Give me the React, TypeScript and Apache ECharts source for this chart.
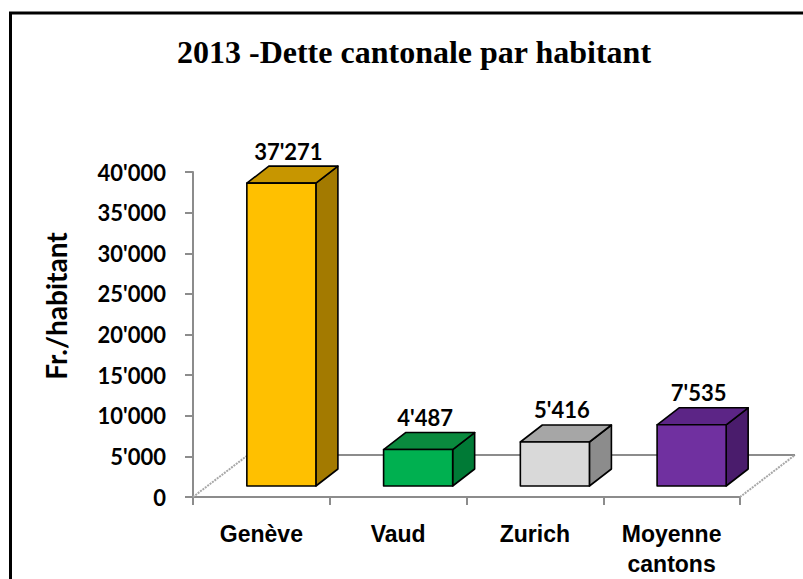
import React, { useEffect, useRef } from "react";
import * as echarts from "echarts";

const titleText = "2013 -Dette cantonale par habitant";
const yAxisTitle = "Fr./habitant";
const categories = ["Genève", "Vaud", "Zurich", "Moyenne\ncantons"];
const debtPerCapita = [37271, 4487, 5416, 7535];
const yMin = 0;
const yMax = 40000;
const yStep = 5000;

const FRONT = ["#FFC000", "#00B050", "#D9D9D9", "#7030A0"];
const TOP = ["#C79600", "#0A8A3E", "#A6A6A6", "#5C2586"];
const SIDE = ["#A37A00", "#007A36", "#8C8C8C", "#4A1C6C"];

function fmt(v: number): string {
  return String(Math.round(v)).replace(/\B(?=(\d{3})+(?!\d))/g, "'");
}

export default function App() {
  const ref = useRef<HTMLDivElement>(null);
  useEffect(() => {
    if (!ref.current) return;
    const chart = echarts.init(ref.current, undefined, { renderer: "svg" });
    const FLOOR_D = [55, -42];
    const BAR_OFF = [20, -11];
    const BAR_D = [22, -17];
    const option: any = {
      animation: false,
      backgroundColor: "#ffffff",
      grid: { left: 193, right: 63, top: 172, bottom: 81, containLabel: false },
      xAxis: {
        type: "category",
        data: categories,
        boundaryGap: true,
        axisLine: { show: true, lineStyle: { color: "#8C8C8C", width: 2 } },
        axisTick: { show: true, length: 8, interval: 0, lineStyle: { color: "#8C8C8C", width: 2 } },
        axisLabel: {
          interval: 0,
          margin: 22,
          color: "#000",
          fontWeight: "bold",
          fontSize: 23,
          lineHeight: 30,
          fontFamily: "'Liberation Sans', Arial, sans-serif",
        },
        splitLine: { show: false },
      },
      yAxis: {
        type: "value",
        min: yMin,
        max: yMax,
        interval: yStep,
        axisLine: { show: true, lineStyle: { color: "#8C8C8C", width: 2 } },
        axisTick: { show: true, length: 8, lineStyle: { color: "#8C8C8C", width: 2 } },
        axisLabel: {
          margin: 27,
          color: "#000",
          fontWeight: "bold",
          fontSize: 22,
          fontFamily: "Lato, 'Open Sans', sans-serif",
          formatter: (v: number) => fmt(v),
        },
        splitLine: { show: false },
      },
      graphic: [
        {
          type: "rect",
          shape: { x: 10.5, y: 13, width: 900, height: 700 },
          style: { fill: "none", stroke: "#000", lineWidth: 3 },
          silent: true,
          z: 0,
        },
        {
          type: "text",
          x: 414,
          y: 52,
          style: {
            text: titleText,
            font: "bold 32px 'Liberation Serif', 'DejaVu Serif', serif",
            fill: "#000",
            textAlign: "center",
            textVerticalAlign: "middle",
            align: "center",
            verticalAlign: "middle",
          },
        },
        {
          type: "text",
          x: 56,
          y: 306,
          rotation: Math.PI / 2,
          style: {
            text: yAxisTitle,
            font: "bold 28px Lato, 'Open Sans', sans-serif",
            fill: "#000",
            textAlign: "center",
            textVerticalAlign: "middle",
            align: "center",
            verticalAlign: "middle",
          },
        },
      ],
      series: [
        {
          type: "custom",
          name: "floor",
          z: 1,
          silent: true,
          data: [[0, 0]],
          renderItem: (params: any) => {
            const cs = params.coordSys;
            const fx0 = cs.x;
            const fx1 = cs.x + cs.width;
            const fy = cs.y + cs.height;
            return {
              type: "group",
              children: [
                {
                  type: "line",
                  shape: { x1: fx0, y1: fy, x2: fx0 + FLOOR_D[0], y2: fy + FLOOR_D[1] },
                  style: { stroke: "#A8A8A8", lineWidth: 2, lineDash: [2, 1] },
                },
                {
                  type: "line",
                  shape: { x1: fx0 + FLOOR_D[0], y1: fy + FLOOR_D[1], x2: fx1 + FLOOR_D[0], y2: fy + FLOOR_D[1] },
                  style: { stroke: "#8C8C8C", lineWidth: 2 },
                },
                {
                  type: "line",
                  shape: { x1: fx1, y1: fy, x2: fx1 + FLOOR_D[0], y2: fy + FLOOR_D[1] },
                  style: { stroke: "#A8A8A8", lineWidth: 2, lineDash: [2, 1] },
                },
              ],
            };
          },
        },
        {
          type: "custom",
          name: "Dette par habitant",
          z: 3,
          data: debtPerCapita.map((v, i) => [i, v]),
          renderItem: (params: any, api: any) => {
            const i = params.dataIndex;
            const cat = api.value(0);
            const val = api.value(1);
            const base = api.coord([cat, 0]);
            const top = api.coord([cat, val]);
            const band = api.size([1, 0])[0];
            const w = band * 0.505;
            const cx = base[0] + BAR_OFF[0];
            const x0 = cx - w / 2;
            const x1 = cx + w / 2;
            const yb = base[1] + BAR_OFF[1];
            const yt = top[1] + BAR_OFF[1];
            const dx = BAR_D[0];
            const dy = BAR_D[1];
            const stroke = { stroke: "#000", lineWidth: 1.6, lineJoin: "round" };
            return {
              type: "group",
              children: [
                {
                  type: "polygon",
                  shape: { points: [[x1, yt], [x1 + dx, yt + dy], [x1 + dx, yb + dy], [x1, yb]] },
                  style: { fill: SIDE[i], ...stroke },
                },
                {
                  type: "polygon",
                  shape: { points: [[x0, yt], [x0 + dx, yt + dy], [x1 + dx, yt + dy], [x1, yt]] },
                  style: { fill: TOP[i], ...stroke },
                },
                {
                  type: "rect",
                  shape: { x: x0, y: yt, width: w, height: yb - yt },
                  style: { fill: FRONT[i], ...stroke },
                },
                {
                  type: "text",
                  x: cx + 7,
                  y: yt + dy - 15,
                  style: {
                    text: fmt(val),
                    font: "bold 22px Lato, 'Open Sans', sans-serif",
                    fill: "#000",
                    textAlign: "center",
                    textVerticalAlign: "middle",
                    align: "center",
                    verticalAlign: "middle",
                  },
                },
              ],
            };
          },
        },
      ],
    };
    chart.setOption(option);
    return () => chart.dispose();
  }, []);
  return (
    <div
      ref={ref}
      style={{ position: "fixed", left: 0, top: 0, width: 803, height: 579 }}
    />
  );
}
